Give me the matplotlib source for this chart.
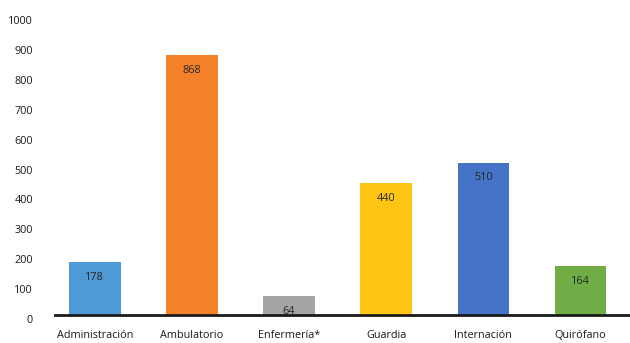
import matplotlib.pyplot as plt
import matplotlib.transforms as mtransforms

# data
categories = ["Administración", "Ambulatorio", "Enfermería*", "Guardia", "Internación", "Quirófano"]
values = [178, 868, 64, 440, 510, 164]
colors = ["#4E9AD4", "#F5822A", "#A5A5A5", "#FFC515", "#4472C4", "#70AD47"]
y_ticks = list(range(0, 1001, 100))

plt.rcParams['font.family'] = ['Open Sans', 'DejaVu Sans']

fig = plt.figure(figsize=(6.3, 3.43), dpi=100)
ax = fig.add_axes([55 / 630, 1 - 315 / 343, 575 / 630, 299 / 343])

x = list(range(len(categories)))
bars = ax.bar(x, values, width=0.53, color=colors, zorder=2)

for xi, v in zip(x, values):
    ax.annotate(str(v), (xi, v), xytext=(0, -11), textcoords="offset points",
                ha="center", va="center", fontsize=7.8, color="#262626")

ax.set_xlim(-0.41, 5.51)
ax.set_ylim(0, 1000)
ax.set_xticks(x)
ax.set_xticklabels(categories, fontsize=7.8, color="#1a1a1a")
ax.set_yticks(y_ticks)
ax.set_yticklabels([str(t) for t in y_ticks], fontsize=7.8, color="#1a1a1a")
ax.tick_params(axis="x", length=0, pad=11)
ax.tick_params(axis="y", length=0, pad=16)

# y tick labels sit a few pixels lower than the gridline values
offset = mtransforms.ScaledTranslation(0, -4 / 100, fig.dpi_scale_trans)
for lbl in ax.get_yticklabels():
    lbl.set_transform(lbl.get_transform() + offset)

for side in ["top", "right", "left"]:
    ax.spines[side].set_visible(False)
ax.spines["bottom"].set_linewidth(2)
ax.spines["bottom"].set_color("#1a1a1a")
ax.spines["bottom"].set_zorder(3)

fig.savefig("out.png", dpi=100)
